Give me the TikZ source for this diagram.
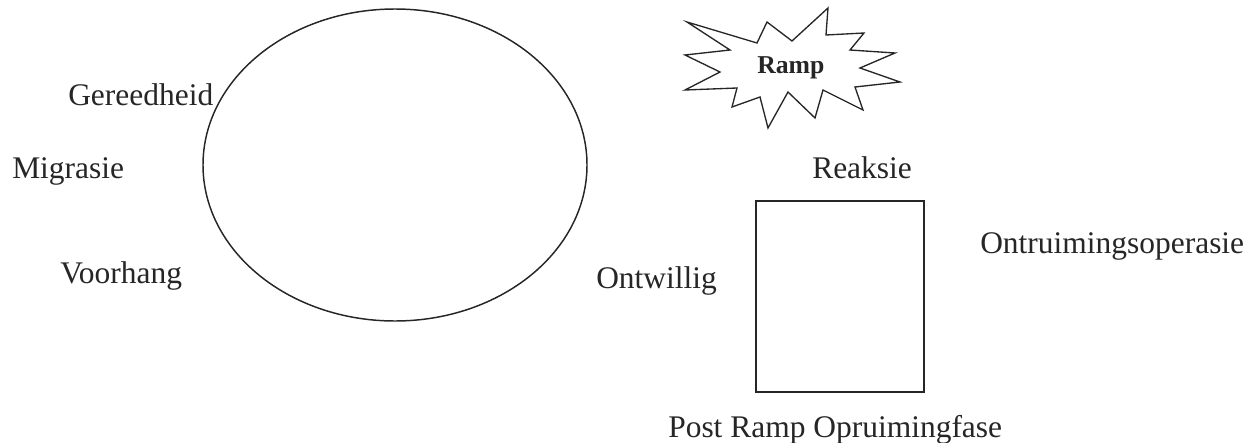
\documentclass[tikz,border=0pt]{standalone}
\usepackage{fontspec}
\setmainfont{Liberation Serif}
\tikzset{
  label text/.style={anchor=base west, inner sep=0pt, text=black!85,
    font=\fontsize{23.6}{28}\selectfont},
  line/.style={draw=black!85, line width=1.1pt}
}
\begin{document}
\begin{tikzpicture}[x=0.75pt, y=-0.75pt]
          \useasboundingbox (0,0) rectangle (1258,443);

          % cycle
          \draw[line] (395,165) ellipse [x radius=192, y radius=156];
          \coordinate (cycle) at (395,165);
          \node[label text] (gereed) at (68,105) {Gereedheid};
          \node[label text] (migr) at (12,178) {Migrasie};
          \node[label text] (voorh) at (60,283) {Voorhang};
          \node[label text] (ontw) at (596,288) {Ontwillig};

          % ramp
          \draw[line, line width=1pt, line join=miter]
            (687,22) -- (757,43) -- (767,22) -- (792,41) -- (828,8) -- (826,35)
            -- (864,33) -- (850,50) -- (895,53) -- (860,68) -- (900,82) -- (855,87)
            -- (863,110) -- (823,90) -- (815,118) -- (788,92) -- (768,128) -- (760,97)
            -- (732,107) -- (737,88) -- (685,90) -- (720,72) -- (685,55) -- (730,50)
            -- cycle;
          \node[label text, font=\fontsize{19.3}{23}\selectfont\bfseries] (ramp) at (757,73) {Ramp};

          % reaksie
          \node[label text] (reaksie) at (812,178) {Reaksie};
          \draw[line, line width=1.5pt] (756,201) rectangle (924,392);
          \node[label text] (ontruim) at (980,253) {Ontruimingsoperasie};
          \node[label text] (post) at (668,437) {Post Ramp Opruimingfase};
\end{tikzpicture}
\end{document}
